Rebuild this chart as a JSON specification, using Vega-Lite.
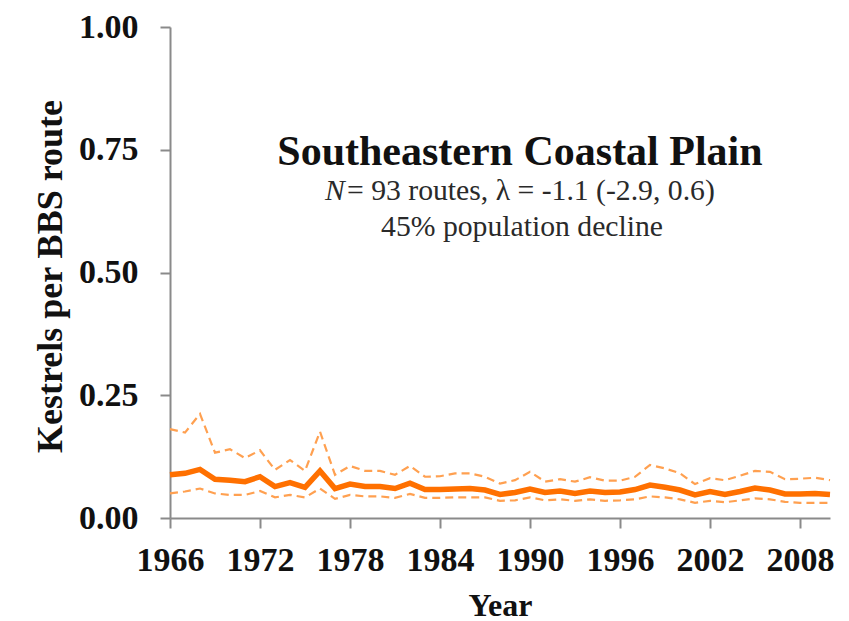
{
  "$schema": "https://vega.github.io/schema/vega-lite/v6.json",
  "width": 660,
  "height": 491,
  "autosize": {"type": "none"},
  "padding": {"left": 170, "top": 27, "right": 19, "bottom": 103},
  "background": "white",
  "config": {
    "view": {"stroke": null},
    "font": "Liberation Serif",
    "axis": {
      "grid": false,
      "domainColor": "#8a8a8a",
      "domainWidth": 2,
      "tickColor": "#8a8a8a",
      "tickWidth": 2,
      "tickSize": 10,
      "labelFont": "Liberation Serif",
      "labelFontWeight": "bold",
      "labelFontSize": 34,
      "labelColor": "#111111",
      "titleFont": "Liberation Serif",
      "titleFontWeight": "bold",
      "titleColor": "#111111"
    }
  },
  "data": {
    "values": [
      {"year": 1966, "mean": 0.088, "lower": 0.050, "upper": 0.181},
      {"year": 1967, "mean": 0.091, "lower": 0.054, "upper": 0.174},
      {"year": 1968, "mean": 0.099, "lower": 0.060, "upper": 0.212},
      {"year": 1969, "mean": 0.079, "lower": 0.050, "upper": 0.133},
      {"year": 1970, "mean": 0.077, "lower": 0.047, "upper": 0.140},
      {"year": 1971, "mean": 0.074, "lower": 0.047, "upper": 0.122},
      {"year": 1972, "mean": 0.084, "lower": 0.055, "upper": 0.138},
      {"year": 1973, "mean": 0.064, "lower": 0.042, "upper": 0.098},
      {"year": 1974, "mean": 0.072, "lower": 0.047, "upper": 0.118},
      {"year": 1975, "mean": 0.0625, "lower": 0.042, "upper": 0.096},
      {"year": 1976, "mean": 0.096, "lower": 0.060, "upper": 0.176},
      {"year": 1977, "mean": 0.060, "lower": 0.039, "upper": 0.088},
      {"year": 1978, "mean": 0.069, "lower": 0.047, "upper": 0.106},
      {"year": 1979, "mean": 0.064, "lower": 0.044, "upper": 0.096},
      {"year": 1980, "mean": 0.064, "lower": 0.044, "upper": 0.096},
      {"year": 1981, "mean": 0.060, "lower": 0.041, "upper": 0.088},
      {"year": 1982, "mean": 0.071, "lower": 0.049, "upper": 0.106},
      {"year": 1983, "mean": 0.058, "lower": 0.041, "upper": 0.084},
      {"year": 1984, "mean": 0.058, "lower": 0.041, "upper": 0.085},
      {"year": 1985, "mean": 0.059, "lower": 0.042, "upper": 0.091},
      {"year": 1986, "mean": 0.060, "lower": 0.042, "upper": 0.091},
      {"year": 1987, "mean": 0.057, "lower": 0.042, "upper": 0.084},
      {"year": 1988, "mean": 0.048, "lower": 0.035, "upper": 0.070},
      {"year": 1989, "mean": 0.052, "lower": 0.036, "upper": 0.077},
      {"year": 1990, "mean": 0.059, "lower": 0.042, "upper": 0.094},
      {"year": 1991, "mean": 0.052, "lower": 0.036, "upper": 0.074},
      {"year": 1992, "mean": 0.055, "lower": 0.038, "upper": 0.079},
      {"year": 1993, "mean": 0.050, "lower": 0.035, "upper": 0.074},
      {"year": 1994, "mean": 0.055, "lower": 0.038, "upper": 0.083},
      {"year": 1995, "mean": 0.052, "lower": 0.035, "upper": 0.076},
      {"year": 1996, "mean": 0.053, "lower": 0.036, "upper": 0.076},
      {"year": 1997, "mean": 0.058, "lower": 0.038, "upper": 0.084},
      {"year": 1998, "mean": 0.067, "lower": 0.044, "upper": 0.108},
      {"year": 1999, "mean": 0.0625, "lower": 0.042, "upper": 0.101},
      {"year": 2000, "mean": 0.057, "lower": 0.038, "upper": 0.091},
      {"year": 2001, "mean": 0.047, "lower": 0.031, "upper": 0.069},
      {"year": 2002, "mean": 0.054, "lower": 0.035, "upper": 0.081},
      {"year": 2003, "mean": 0.048, "lower": 0.032, "upper": 0.077},
      {"year": 2004, "mean": 0.054, "lower": 0.036, "upper": 0.086},
      {"year": 2005, "mean": 0.061, "lower": 0.040, "upper": 0.096},
      {"year": 2006, "mean": 0.057, "lower": 0.038, "upper": 0.094},
      {"year": 2007, "mean": 0.049, "lower": 0.033, "upper": 0.079},
      {"year": 2008, "mean": 0.049, "lower": 0.031, "upper": 0.080},
      {"year": 2009, "mean": 0.050, "lower": 0.031, "upper": 0.082},
      {"year": 2010, "mean": 0.048, "lower": 0.031, "upper": 0.077}
    ]
  },
  "encoding": {
    "x": {
      "field": "year",
      "type": "quantitative",
      "scale": {"domain": [1966, 2010], "nice": false, "zero": false},
      "axis": {
        "title": "Year",
        "titleFontSize": 32,
        "values": [1966, 1972, 1978, 1984, 1990, 1996, 2002, 2008],
        "format": "d",
        "labelPadding": 15,
        "labelFlush": false,
        "titlePadding": 13
      }
    }
  },
  "layer": [
    {
      "mark": {"type": "line", "color": "#FFA050", "strokeWidth": 2.2, "strokeDash": [8, 5]},
      "encoding": {
        "y": {
          "field": "upper",
          "type": "quantitative",
          "scale": {"domain": [0, 1], "nice": false},
          "axis": {
            "title": "Kestrels per BBS route",
            "titleFontSize": 36,
            "values": [0, 0.25, 0.5, 0.75, 1],
            "format": ".2f",
            "labelPadding": 22,
            "titleAngle": -90,
            "titleX": -120,
            "titleY": 249,
            "titleAlign": "center",
            "titleBaseline": "middle"
          }
        }
      }
    },
    {
      "mark": {"type": "line", "color": "#FFA050", "strokeWidth": 2.2, "strokeDash": [8, 5]},
      "encoding": {"y": {"field": "lower", "type": "quantitative"}}
    },
    {
      "mark": {"type": "line", "color": "#FF7000", "strokeWidth": 5.5},
      "encoding": {"y": {"field": "mean", "type": "quantitative"}}
    },
    {
      "data": {"values": [{"tx": 1989.33, "ty": 0.719, "label": "Southeastern Coastal Plain"}]},
      "mark": {"type": "text", "font": "Liberation Serif", "fontWeight": "bold", "fontSize": 42, "align": "center", "baseline": "alphabetic", "color": "#111111"},
      "encoding": {
        "x": {"field": "tx", "type": "quantitative"},
        "y": {"field": "ty", "type": "quantitative"},
        "text": {"field": "label"}
      }
    },
    {
      "data": {"values": [{"tx": 1976.33, "ty": 0.648, "label": "N"}]},
      "mark": {"type": "text", "font": "Liberation Serif", "fontStyle": "italic", "fontSize": 29.7, "align": "left", "baseline": "alphabetic", "color": "#2a2a2a"},
      "encoding": {
        "x": {"field": "tx", "type": "quantitative"},
        "y": {"field": "ty", "type": "quantitative"},
        "text": {"field": "label"}
      }
    },
    {
      "data": {"values": [{"tx": 1977.8, "ty": 0.648, "label": "= 93 routes, λ = -1.1 (-2.9, 0.6)"}]},
      "mark": {"type": "text", "font": "Liberation Serif", "fontSize": 29.7, "align": "left", "baseline": "alphabetic", "color": "#2a2a2a"},
      "encoding": {
        "x": {"field": "tx", "type": "quantitative"},
        "y": {"field": "ty", "type": "quantitative"},
        "text": {"field": "label"}
      }
    },
    {
      "data": {"values": [{"tx": 1989.47, "ty": 0.574, "label": "45% population decline"}]},
      "mark": {"type": "text", "font": "Liberation Serif", "fontSize": 29.7, "align": "center", "baseline": "alphabetic", "color": "#2a2a2a"},
      "encoding": {
        "x": {"field": "tx", "type": "quantitative"},
        "y": {"field": "ty", "type": "quantitative"},
        "text": {"field": "label"}
      }
    }
  ]
}
